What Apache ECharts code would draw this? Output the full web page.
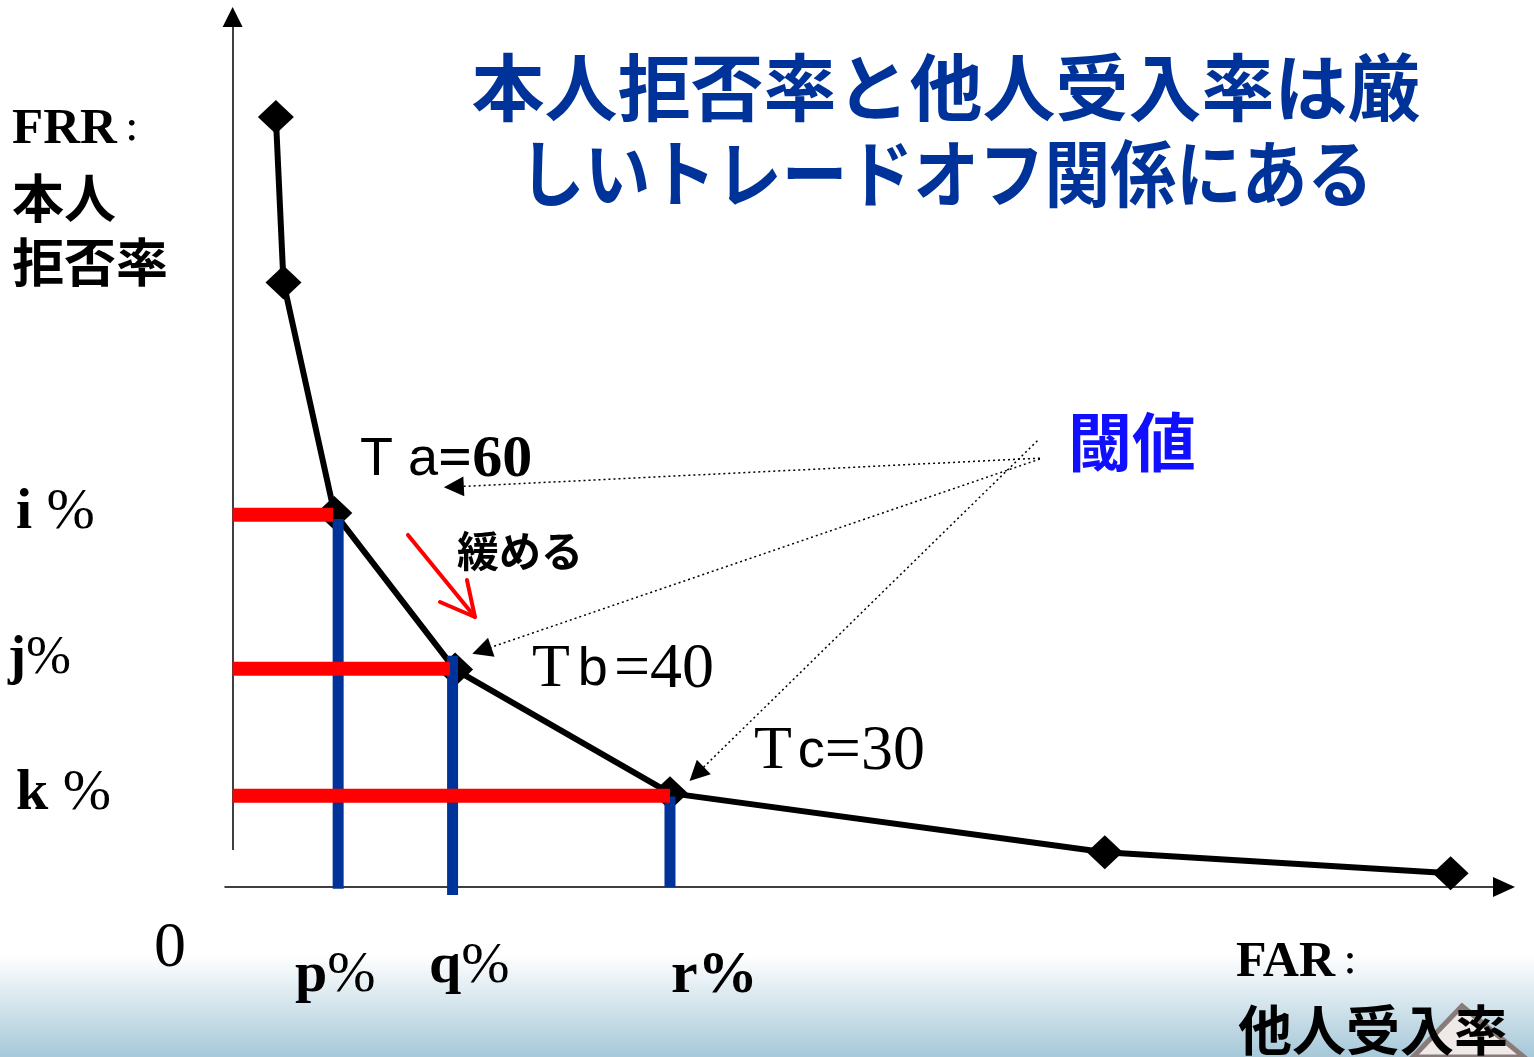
<!DOCTYPE html>
<html><head><meta charset="utf-8">
<script src="https://cdn.jsdelivr.net/npm/echarts@6/dist/echarts.min.js"></script>
<style>html,body{margin:0;padding:0;background:#fff}#c{width:1534px;height:1057px}</style>
</head><body><div id="c"></div>
<script>
// FAR (x, 他人受入率) vs FRR (y, 本人拒否率), conceptual % units
const farValues = [3.4, 4.0, 8.0, 17.5, 34.4, 68.6, 95.8];
const frrValues = [88.5, 69.5, 43.0, 25.0, 10.8, 4.0, 1.6];
// thresholds Ta=60, Tb=40, Tc=30
const thresholdNames = ['Ta=60', 'Tb=40', 'Tc=30'];
const thresholdFar = [8.3, 17.3, 34.4];     // blue verticals (p, q, r)
const thresholdFrr = [42.8, 25.1, 10.5];    // red horizontals (i, j, k)
const redEnd = [7.9, 17.1, 34.4];
const blueTop = [42.3, 26.6, 10.4];
const blueBottom = [-0.2, -0.9, 0.0];
const frrTickLabels = ['i %', 'j%', 'k %'];
const farTickLabels = ['p%', 'q%', 'r%'];

const SERIF = '"Liberation Serif","Times New Roman",serif';
const CJK = '"Noto Sans CJK JP","Noto Sans CJK SC",sans-serif';
const SANS = '"Liberation Sans","DejaVu Sans",sans-serif';

const chart = echarts.init(document.getElementById('c'), null, {renderer: 'canvas'});

const curve = farValues.map((x, i) => [x, frrValues[i]]);

function txt(x, y, text, style, extra) {
  return Object.assign({type: 'text', x: x, y: y, z: 100, silent: true,
    style: Object.assign({text: text, fill: '#000', align: 'left', verticalAlign: 'middle'}, style)}, extra || {});
}
function latinLabel(x, y, s, size, boldAll) {
  const first = s[0], rest = s.slice(1);
  return txt(x, y, '{b|' + first + '}{r|' + rest + '}', {
    rich: {
      b: {fontFamily: SERIF, fontWeight: 'bold', fontSize: size, fill: '#000'},
      r: {fontFamily: SERIF, fontWeight: boldAll ? 'bold' : 'normal', fontSize: size, fill: '#000'}
    }
  });
}
function thrLabel(x, y, name, cfg) {
  const t = name[0], l = name[1], rest = name.slice(2);
  const rich = {
    t: {fontFamily: SERIF, fontSize: 62, fill: '#000', padding: [0, cfg.tPad, 0, 0]},
    s: {fontFamily: SANS, fontSize: 54, fill: '#000', padding: [0, cfg.sPad, 0, 0]},
    n: {fontFamily: SERIF, fontWeight: cfg.bold ? 'bold' : 'normal', fontSize: cfg.nSize, fill: '#000'}
  };
  if (cfg.sansT) {
    return txt(x, y, '{s|' + t + ' ' + l + '}{n|' + rest + '}', {rich: rich});
  }
  return txt(x, y, '{t|' + t + '}{s|' + l + '}{n|' + rest + '}', {rich: rich});
}

const option = {
  animation: false,
  backgroundColor: '#ffffff',
  grid: {left: 225, right: 30, top: 17, bottom: 152.5, containLabel: false, outerBoundsMode: 'none'},
  xAxis: {
    type: 'value', min: -0.6, max: 100,
    axisLine: {show: true, onZero: true, symbol: ['none', 'triangle'], symbolSize: [20, 22],
      lineStyle: {color: '#000', width: 1.5}},
    axisTick: {show: false}, axisLabel: {show: false}, splitLine: {show: false}
  },
  yAxis: {type: 'value', min: -2, max: 100, show: false},
  series: [
    {
      type: 'line', data: curve, symbol: 'diamond', symbolSize: [36, 34],
      itemStyle: {color: '#000'}, lineStyle: {color: '#000', width: 6}, z: 2, silent: true
    },
    ...thresholdFar.map((x, i) => ({
      type: 'line', data: [[x, blueTop[i]], [x, blueBottom[i]]], symbol: 'none',
      lineStyle: {color: '#003399', width: 11, cap: 'butt'}, z: 3, silent: true
    })),
    ...thresholdFrr.map((y, i) => ({
      type: 'line', data: [[0, y], [redEnd[i], y]], symbol: 'none',
      lineStyle: {color: '#ff0000', width: 14, cap: 'butt'}, z: 4, silent: true
    })),
    { // vertical FRR axis line with arrow
      type: 'lines', coordinateSystem: 'cartesian2d', silent: true, z: 1, clip: false,
      symbol: ['none', 'triangle'], symbolSize: [20, 20],
      lineStyle: {color: '#000', width: 1.5, opacity: 1},
      data: [{coords: [[0, 4.26], [0, 100]]}]
    },
    { // dotted pointers from 閾値
      type: 'lines', coordinateSystem: 'cartesian2d', silent: true, z: 5, clip: false,
      symbol: ['none', 'triangle'], symbolSize: [20, 20],
      lineStyle: {color: '#000', width: 1.5, type: [2, 3], opacity: 1},
      data: [
        {coords: [[63.5, 49.3], [17.4, 46.0]]},
        {coords: [[63.5, 49.2], [19.6, 27.2]]},
        {coords: [[63.3, 51.3], [36.5, 13.0]]}
      ]
    },
    { // red 緩める arrow
      type: 'lines', coordinateSystem: 'cartesian2d', polyline: true, silent: true, z: 5, clip: false,
      symbol: 'none',
      lineStyle: {color: '#ff0000', width: 4, opacity: 1, cap: 'round', join: 'round'},
      data: [
        {coords: [[13.79, 40.47], [19.06, 31.04]]},
        {coords: [[16.31, 32.77], [19.06, 31.04], [18.43, 35.29]]}
      ]
    }
  ],
  graphic: {elements: [
    {type: 'rect', z: -10, silent: true, shape: {x: 0, y: 955, width: 1534, height: 102},
      style: {fill: {type: 'linear', x: 0, y: 0, x2: 0, y2: 1,
        colorStops: [{offset: 0, color: '#ffffff'}, {offset: 1, color: '#a6c8d8'}]}}},
    {type: 'polygon', z: -5, silent: true, shape: {points: [[1413, 1057], [1462, 1006], [1524, 1057]]},
      style: {fill: '#efe9e8', stroke: '#8a7b7b', lineWidth: 5}},
    txt(946, 87, '本人拒否率と他人受入率は厳', {fontFamily: CJK, fontWeight: 'bold', fontSize: 73, fill: '#003399', align: 'center'}),
    txt(946, 173, 'しいトレードオフ関係にある', {fontFamily: CJK, fontWeight: 'bold', fontSize: 73, fill: '#003399', align: 'center'}, {scaleX: 0.9}),
    txt(12, 130, '{a|FRR}{b|：}', {rich: {
      a: {fontFamily: SERIF, fontWeight: 'bold', fontSize: 51, fill: '#000'},
      b: {fontFamily: CJK, fontWeight: 'bold', fontSize: 30, fill: '#000'}}}),
    txt(12, 198, '本人', {fontFamily: CJK, fontWeight: 'bold', fontSize: 52}),
    txt(12, 262, '拒否率', {fontFamily: CJK, fontWeight: 'bold', fontSize: 52}),
    latinLabel(16, 513, frrTickLabels[0], 58, false),
    latinLabel(8, 659, frrTickLabels[1], 54, false),
    latinLabel(16, 794, frrTickLabels[2], 58, false),
    txt(154, 949, '0', {fontFamily: SERIF, fontSize: 64}),
    latinLabel(295, 976, farTickLabels[0], 58, false),
    latinLabel(429, 967, farTickLabels[1], 58, false),
    latinLabel(671, 976, farTickLabels[2], 60, true),
    thrLabel(360, 460, thresholdNames[0], {sansT: true, tPad: 0, sPad: 0, bold: true, nSize: 60}),
    thrLabel(532, 670, thresholdNames[1], {sansT: false, tPad: 8, sPad: 6, bold: false, nSize: 64}),
    thrLabel(754, 752, thresholdNames[2], {sansT: false, tPad: 6, sPad: 0, bold: false, nSize: 64}),
    txt(1068, 442, '閾値', {fontFamily: CJK, fontWeight: 'bold', fontSize: 64, fill: '#1010ff'}),
    txt(457, 551, '緩める', {fontFamily: CJK, fontWeight: 'bold', fontSize: 42}),
    txt(1236, 963, '{a|FAR}{b|：}', {rich: {
      a: {fontFamily: SERIF, fontWeight: 'bold', fontSize: 50, fill: '#000'},
      b: {fontFamily: CJK, fontWeight: 'bold', fontSize: 30, fill: '#000'}}}),
    txt(1238, 1030, '他人受入率', {fontFamily: CJK, fontWeight: 'bold', fontSize: 54})
  ]}
};
chart.setOption(option);
</script></body></html>
